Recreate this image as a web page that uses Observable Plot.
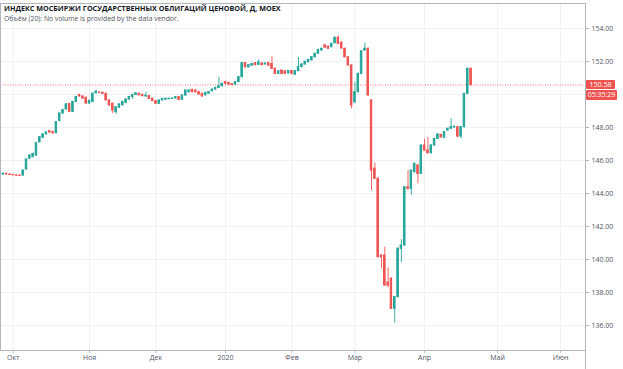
<!DOCTYPE html>
<html>
<head>
<meta charset="utf-8">
<script src="https://cdn.jsdelivr.net/npm/d3@7"></script>
<script src="https://cdn.jsdelivr.net/npm/@observablehq/plot@0.6"></script>
<style>
  body { margin: 0; background: #fff; }
  #wrap { position: relative; width: 623px; height: 369px; overflow: hidden; font-family: "Open Sans", "Noto Sans", sans-serif; }
  #title { position: absolute; left: 4px; top: 4px; font-size: 7.2px; font-weight: 700; color: #131722; white-space: nowrap; line-height: 9px; }
  #sub { position: absolute; left: 4px; top: 14px; font-size: 6.8px; color: #50535e; white-space: nowrap; line-height: 9px; }
  svg { display: block; }
</style>
</head>
<body>
<div id="wrap">
  <div id="chart"></div>
  <div id="title">ИНДЕКС МОСБИРЖИ ГОСУДАРСТВЕННЫХ ОБЛИГАЦИЙ ЦЕНОВОЙ, Д, MOEX</div>
  <div id="sub">Объём (20): No volume is provided by the data vendor.</div>
</div>
<script>
// Daily candles, 26 Sep 2019 .. 21 Apr 2020 (trading-day index 0..141)
const open = [
145.15,145.20,145.15,145.12,145.10,145.08,145.09,145.45,146.12,146.22,
146.30,147.11,147.38,147.58,147.78,147.72,147.65,148.40,148.85,149.10,
149.42,148.95,149.55,149.97,149.88,149.80,149.45,149.55,150.08,150.12,
150.10,150.04,149.64,149.44,148.93,149.20,149.35,149.50,149.70,149.85,
149.98,150.05,149.98,149.88,149.90,149.74,149.60,149.44,149.64,149.68,
149.72,149.74,149.76,149.84,149.68,149.94,150.14,150.28,150.24,150.14,
150.04,149.95,150.05,150.20,150.30,150.40,150.50,150.75,150.70,150.62,
150.60,150.75,151.05,151.90,151.65,151.75,151.90,151.80,151.88,151.82,
151.90,151.85,151.56,151.25,151.45,151.40,151.28,151.42,151.20,151.42,
151.66,151.82,151.95,152.07,152.26,152.47,152.67,152.98,152.90,152.87,
153.11,153.44,153.15,152.77,152.26,151.76,149.53,150.14,151.25,152.67,
152.77,149.64,145.50,144.89,140.24,140.24,138.60,138.83,137.01,137.72,
140.65,140.85,144.38,144.28,145.29,145.70,145.19,146.91,146.61,146.44,
146.91,147.31,147.55,147.38,147.82,147.92,148.00,148.02,147.45,148.02,
150.04,151.56];
const high = [
145.22,145.22,145.18,145.15,145.13,145.12,145.42,146.10,146.35,146.45,
147.10,147.45,147.62,147.75,147.82,147.75,148.35,148.88,149.08,149.45,
149.47,149.58,149.88,150.02,149.92,149.85,149.66,150.08,150.22,150.16,
150.14,150.08,149.68,149.48,149.25,149.42,149.58,149.72,149.88,150.00,
150.10,150.08,150.02,150.14,149.94,149.78,149.64,149.66,149.76,149.77,
149.77,149.79,149.87,149.88,149.97,150.27,150.28,150.32,150.28,150.18,
150.08,150.13,150.18,150.33,150.43,151.05,150.68,150.80,150.74,150.66,
150.78,151.08,151.94,151.94,151.82,151.88,151.94,152.10,151.92,151.92,
151.94,152.30,151.60,151.44,151.49,151.44,151.46,151.46,151.46,152.26,
151.86,152.02,152.14,152.30,152.50,152.74,152.81,153.02,152.94,153.10,
153.48,153.55,153.19,152.81,152.30,151.80,150.75,151.30,152.66,153.11,
152.82,149.68,145.85,144.95,140.30,140.74,139.50,138.90,137.76,140.70,
141.20,144.42,145.40,145.43,145.84,145.74,146.95,147.31,147.40,146.95,
147.35,147.62,147.60,147.76,147.96,148.53,148.08,148.06,148.06,150.08,
151.60,151.60];
const low = [
145.12,145.12,145.10,145.08,145.05,145.04,145.05,145.40,146.05,146.15,
146.25,147.05,147.33,147.55,147.66,147.60,147.62,148.35,148.80,149.05,
148.90,148.90,149.50,149.85,149.72,149.40,149.40,149.50,150.02,150.05,
150.00,149.60,149.30,148.85,148.80,149.15,149.30,149.45,149.65,149.70,
149.95,149.92,149.86,149.84,149.70,149.56,149.40,149.40,149.60,149.65,
149.68,149.70,149.72,149.64,149.65,149.90,150.10,150.10,150.10,149.96,
149.84,149.90,150.02,150.16,150.26,150.36,150.46,150.60,150.56,150.54,
150.56,150.72,151.00,151.60,151.60,151.70,151.74,151.76,151.74,151.78,
151.70,151.52,151.20,151.20,151.20,151.20,151.24,151.20,151.15,151.38,
151.62,151.78,151.90,152.03,152.22,152.43,152.63,152.80,152.73,152.83,
153.07,153.03,152.75,152.22,151.72,149.13,149.45,150.10,151.20,152.60,
149.90,144.18,144.85,140.10,139.45,138.38,138.30,136.98,136.14,137.68,
139.80,140.80,144.20,143.90,145.25,144.59,145.15,146.55,146.40,146.40,
146.87,147.27,147.36,147.34,147.78,147.88,147.96,147.38,147.30,147.98,
150.00,150.50];
const close = [
145.20,145.15,145.12,145.10,145.08,145.06,145.39,146.06,146.30,146.40,
147.05,147.41,147.58,147.70,147.70,147.65,148.32,148.85,149.05,149.40,
148.95,149.55,149.85,149.88,149.75,149.45,149.62,150.05,150.18,150.10,
150.04,149.64,149.33,149.03,149.23,149.40,149.55,149.70,149.85,149.98,
150.08,149.95,149.90,149.92,149.74,149.60,149.44,149.64,149.74,149.74,
149.74,149.76,149.84,149.68,149.94,150.24,150.24,150.14,150.14,150.00,
149.88,150.10,150.15,150.30,150.40,150.50,150.65,150.65,150.60,150.58,
150.75,151.05,151.90,151.65,151.78,151.85,151.78,151.95,151.78,151.88,
151.75,151.56,151.25,151.40,151.25,151.25,151.42,151.25,151.42,151.66,
151.82,151.98,152.10,152.26,152.47,152.70,152.77,152.84,152.77,153.07,
153.44,153.07,152.79,152.26,151.76,149.33,150.14,151.25,152.62,152.77,
149.94,145.39,144.89,140.14,140.14,138.42,138.42,137.01,137.72,140.65,
140.85,144.38,144.28,145.39,145.80,145.19,146.91,146.61,146.44,146.91,
147.31,147.58,147.40,147.72,147.92,148.02,148.05,147.45,148.02,150.04,
151.56,150.58];

const monthLabels = ["Окт", "Ноя", "Дек", "2020", "Фев", "Мар", "Апр", "Май", "Июн"];
const monthTickIndex = [3, 26, 46, 67, 87, 106, 127, 149, 168];
const priceTicks = [136, 138, 140, 142, 144, 146, 148, 150, 152, 154];
// 150.00 is covered by the live price label in the reference, so it gets a grid line but no text
const priceLabelTicks = [136, 138, 140, 142, 144, 146, 148, 152, 154];
const lastPrice = 150.58;
const countdown = "05:35:29";

const GREEN = "#26a69a", RED = "#ef5350", GRID = "#eef0f4";

const data = open.map((o, i) => ({i, open: o, high: high[i], low: low[i], close: close[i]}));
const up = data.filter(d => d.close >= d.open);
const down = data.filter(d => d.close < d.open);

const chart = Plot.plot({
  width: 623,
  height: 369,
  marginLeft: 0,
  marginRight: 38,
  marginTop: 3,
  marginBottom: 19,
  style: {fontFamily: "'Open Sans', 'Noto Sans', sans-serif", fontSize: "7px", color: "#50535e", background: "#fff"},
  x: {type: "linear", domain: [-0.83, 175.5], label: null},
  y: {domain: [134.485, 155.515], label: null},
  marks: [
    Plot.gridY(priceTicks, {stroke: GRID, strokeOpacity: 1}),
    Plot.gridX(monthTickIndex, {stroke: GRID, strokeOpacity: 1}),
    Plot.ruleY([lastPrice], {stroke: RED, strokeDasharray: "1,1.5", strokeWidth: 0.8}),
    Plot.ruleX(up, {x: "i", y1: "low", y2: "high", stroke: GREEN, strokeWidth: 0.9}),
    Plot.ruleX(down, {x: "i", y1: "low", y2: "high", stroke: RED, strokeWidth: 0.9}),
    Plot.rect(up, {x1: d => d.i - 0.22, x2: d => d.i + 0.22, y1: "open", y2: "close", fill: GREEN, stroke: GREEN, strokeWidth: 1}),
    Plot.rect(down, {x1: d => d.i - 0.22, x2: d => d.i + 0.22, y1: "open", y2: "close", fill: RED, stroke: RED, strokeWidth: 1}),
    Plot.frame({stroke: "#b2b5be", strokeWidth: 1}),
    Plot.axisY(priceLabelTicks, {anchor: "right", label: null, tickFormat: d => d.toFixed(2), tickSize: 3, tickPadding: 3, fontSize: 7, stroke: "#b2b5be", fill: "#50535e"}),
    Plot.axisX(monthTickIndex, {anchor: "bottom", label: null, tickFormat: d => monthLabels[monthTickIndex.indexOf(d)], tickSize: 3, tickPadding: 2, fontSize: 7, stroke: "#b2b5be", fill: "#50535e"})
  ]
});
document.getElementById("chart").appendChild(chart);

// price label boxes on the right axis, positioned with the y scale
const ns = "http://www.w3.org/2000/svg";
const py = chart.scale("y").apply(lastPrice);
const xr = 623 - 38;
function box(y0, h, w, label) {
  const r = document.createElementNS(ns, "rect");
  r.setAttribute("x", xr + 1); r.setAttribute("y", y0); r.setAttribute("width", w); r.setAttribute("height", h);
  r.setAttribute("fill", RED); r.setAttribute("rx", 1);
  chart.appendChild(r);
  const t = document.createElementNS(ns, "text");
  t.setAttribute("x", xr + 1 + w / 2); t.setAttribute("y", y0 + h / 2);
  t.setAttribute("dy", "0.35em"); t.setAttribute("text-anchor", "middle");
  t.setAttribute("fill", "#fff"); t.setAttribute("font-size", "7px");
  t.textContent = label;
  chart.appendChild(t);
}
box(py - 4.5, 9, 29, lastPrice.toFixed(2));
box(py + 5.5, 10, 31, countdown);

// divider between plot and price axis extending through the time-axis strip
const l = document.createElementNS(ns, "line");
l.setAttribute("x1", xr + 0.5); l.setAttribute("x2", xr + 0.5);
l.setAttribute("y1", 350); l.setAttribute("y2", 369);
l.setAttribute("stroke", "#b2b5be");
chart.appendChild(l);
</script>
</body>
</html>
